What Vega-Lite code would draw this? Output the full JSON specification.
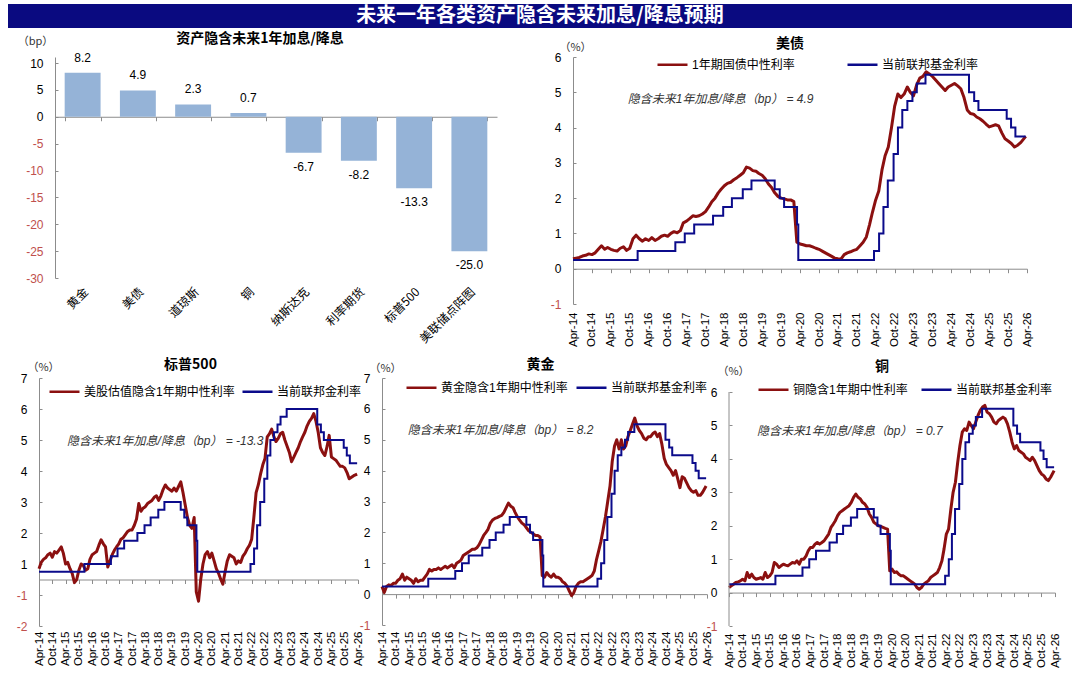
{
  "$schema": "https://vega.github.io/schema/vega-lite/v6.json",
  "background": "#ffffff",
  "padding": {"left": 8, "top": 4, "right": 8, "bottom": 0},
  "spacing": 0,
  "resolve": {"scale": {"color": "independent"}, "legend": {"color": "independent"}},
  "config": {
    "view": {"stroke": null},
    "concat": {"spacing": 0},
    "font": "Liberation Sans",
    "axis": {"grid": false, "domainColor": "#8c8c8c", "tickColor": "#8c8c8c", "labelFont": "Liberation Sans", "labelFontSize": 12, "labelColor": "#000000", "titleFont": "Noto Sans CJK SC", "titleFontSize": 11, "titleFontWeight": "normal", "titleColor": "#333333"},
    "axisY": {"ticks": true, "tickSize": -3, "labelPadding": 15, "labelOverlap": false, "titleAngle": 0, "titleAlign": "center", "titleBaseline": "middle"},
    "legend": {"symbolType": "stroke", "symbolSize": 900, "symbolStrokeWidth": 2.5, "labelFont": "Liberation Sans, Noto Sans CJK SC", "labelFontSize": 12, "labelColor": "#000000", "labelOffset": 3, "padding": 0, "labelLimit": 300},
    "title": {"font": "Noto Sans CJK SC", "fontSize": 14, "fontWeight": "bold", "color": "#000000", "anchor": "middle"},
    "text": {"font": "Liberation Sans", "fontSize": 12}
  },
  "datasets": {
    "bp": [
      {"asset": "黄金", "v": 8.2},
      {"asset": "美债", "v": 4.9},
      {"asset": "道琼斯", "v": 2.3},
      {"asset": "铜", "v": 0.7},
      {"asset": "纳斯达克", "v": -6.7},
      {"asset": "利率期货", "v": -8.2},
      {"asset": "标普500", "v": -13.3},
      {"asset": "美联储点阵图", "v": -25.0}
    ],
    "ff": [
      {"date": "2014/04/01", "ff": 0.25},
      {"date": "2015/12/16", "ff": 0.5},
      {"date": "2016/12/14", "ff": 0.75},
      {"date": "2017/03/15", "ff": 1.0},
      {"date": "2017/06/14", "ff": 1.25},
      {"date": "2017/12/13", "ff": 1.5},
      {"date": "2018/03/21", "ff": 1.75},
      {"date": "2018/06/13", "ff": 2.0},
      {"date": "2018/09/26", "ff": 2.25},
      {"date": "2018/12/19", "ff": 2.5},
      {"date": "2019/07/31", "ff": 2.25},
      {"date": "2019/09/18", "ff": 2.0},
      {"date": "2019/10/30", "ff": 1.75},
      {"date": "2020/03/03", "ff": 1.25},
      {"date": "2020/03/15", "ff": 0.25},
      {"date": "2022/03/16", "ff": 0.5},
      {"date": "2022/05/04", "ff": 1.0},
      {"date": "2022/06/15", "ff": 1.75},
      {"date": "2022/07/27", "ff": 2.5},
      {"date": "2022/09/21", "ff": 3.25},
      {"date": "2022/11/02", "ff": 4.0},
      {"date": "2022/12/14", "ff": 4.5},
      {"date": "2023/02/01", "ff": 4.75},
      {"date": "2023/03/22", "ff": 5.0},
      {"date": "2023/05/03", "ff": 5.25},
      {"date": "2023/07/26", "ff": 5.5},
      {"date": "2024/09/18", "ff": 5.0},
      {"date": "2024/11/07", "ff": 4.75},
      {"date": "2024/12/18", "ff": 4.5},
      {"date": "2025/09/17", "ff": 4.25},
      {"date": "2025/10/29", "ff": 4.0},
      {"date": "2025/12/10", "ff": 3.75},
      {"date": "2026/03/20", "ff": 3.75}
    ],
    "m": [
      {"date": "2014/04/01", "ust": 0.28, "spx": 0.35, "gold": 0.25, "cu": 0.15},
      {"date": "2014/05/01", "ust": 0.30, "spx": 0.55, "gold": 0.05, "cu": 0.20},
      {"date": "2014/06/01", "ust": 0.32, "spx": 0.65, "gold": 0.25, "cu": 0.25},
      {"date": "2014/07/01", "ust": 0.36, "spx": 0.70, "gold": 0.30, "cu": 0.30},
      {"date": "2014/08/01", "ust": 0.38, "spx": 0.80, "gold": 0.28, "cu": 0.32},
      {"date": "2014/09/01", "ust": 0.42, "spx": 0.85, "gold": 0.35, "cu": 0.35},
      {"date": "2014/10/01", "ust": 0.40, "spx": 0.72, "gold": 0.35, "cu": 0.40},
      {"date": "2014/11/01", "ust": 0.45, "spx": 0.90, "gold": 0.45, "cu": 0.35},
      {"date": "2014/12/01", "ust": 0.55, "spx": 0.85, "gold": 0.50, "cu": 0.60},
      {"date": "2015/01/01", "ust": 0.65, "spx": 0.95, "gold": 0.65, "cu": 0.45},
      {"date": "2015/02/01", "ust": 0.55, "spx": 1.05, "gold": 0.45, "cu": 0.55},
      {"date": "2015/03/01", "ust": 0.60, "spx": 0.85, "gold": 0.55, "cu": 0.45},
      {"date": "2015/04/01", "ust": 0.55, "spx": 0.50, "gold": 0.50, "cu": 0.40},
      {"date": "2015/05/01", "ust": 0.52, "spx": 0.55, "gold": 0.45, "cu": 0.42},
      {"date": "2015/06/01", "ust": 0.50, "spx": 0.35, "gold": 0.35, "cu": 0.45},
      {"date": "2015/07/01", "ust": 0.58, "spx": 0.20, "gold": 0.50, "cu": 0.40},
      {"date": "2015/08/01", "ust": 0.62, "spx": -0.10, "gold": 0.40, "cu": 0.60},
      {"date": "2015/09/01", "ust": 0.52, "spx": 0.00, "gold": 0.45, "cu": 0.45},
      {"date": "2015/10/01", "ust": 0.58, "spx": 0.30, "gold": 0.45, "cu": 0.50},
      {"date": "2015/11/01", "ust": 0.85, "spx": 0.50, "gold": 0.55, "cu": 0.60},
      {"date": "2015/12/01", "ust": 0.95, "spx": 0.45, "gold": 0.65, "cu": 0.90},
      {"date": "2016/01/01", "ust": 0.85, "spx": 0.30, "gold": 0.80, "cu": 0.85},
      {"date": "2016/02/01", "ust": 0.78, "spx": 0.35, "gold": 0.75, "cu": 0.75},
      {"date": "2016/03/01", "ust": 0.85, "spx": 0.65, "gold": 0.80, "cu": 0.80},
      {"date": "2016/04/01", "ust": 0.80, "spx": 0.80, "gold": 0.80, "cu": 0.85},
      {"date": "2016/05/01", "ust": 0.88, "spx": 0.85, "gold": 0.85, "cu": 0.82},
      {"date": "2016/06/01", "ust": 0.80, "spx": 0.90, "gold": 0.80, "cu": 0.80},
      {"date": "2016/07/01", "ust": 0.85, "spx": 1.10, "gold": 0.85, "cu": 0.85},
      {"date": "2016/08/01", "ust": 0.92, "spx": 1.28, "gold": 0.90, "cu": 0.90},
      {"date": "2016/09/01", "ust": 0.95, "spx": 1.15, "gold": 0.85, "cu": 0.88},
      {"date": "2016/10/01", "ust": 0.92, "spx": 1.05, "gold": 0.90, "cu": 0.95},
      {"date": "2016/11/01", "ust": 1.00, "spx": 0.40, "gold": 0.95, "cu": 0.85},
      {"date": "2016/12/01", "ust": 1.05, "spx": 0.60, "gold": 0.85, "cu": 1.00},
      {"date": "2017/01/01", "ust": 1.02, "spx": 0.80, "gold": 1.00, "cu": 1.00},
      {"date": "2017/02/01", "ust": 1.08, "spx": 0.95, "gold": 1.05, "cu": 1.10},
      {"date": "2017/03/01", "ust": 1.30, "spx": 1.05, "gold": 1.10, "cu": 1.25},
      {"date": "2017/04/01", "ust": 1.35, "spx": 1.15, "gold": 1.25, "cu": 1.35},
      {"date": "2017/05/01", "ust": 1.42, "spx": 1.30, "gold": 1.30, "cu": 1.35},
      {"date": "2017/06/01", "ust": 1.50, "spx": 1.35, "gold": 1.35, "cu": 1.45},
      {"date": "2017/07/01", "ust": 1.48, "spx": 1.45, "gold": 1.40, "cu": 1.50},
      {"date": "2017/08/01", "ust": 1.50, "spx": 1.55, "gold": 1.45, "cu": 1.45},
      {"date": "2017/09/01", "ust": 1.55, "spx": 1.60, "gold": 1.45, "cu": 1.50},
      {"date": "2017/10/01", "ust": 1.62, "spx": 1.60, "gold": 1.50, "cu": 1.55},
      {"date": "2017/11/01", "ust": 1.75, "spx": 1.75, "gold": 1.60, "cu": 1.65},
      {"date": "2017/12/01", "ust": 1.90, "spx": 1.95, "gold": 1.75, "cu": 1.75},
      {"date": "2018/01/01", "ust": 2.00, "spx": 2.45, "gold": 1.90, "cu": 1.95},
      {"date": "2018/02/01", "ust": 2.15, "spx": 2.20, "gold": 2.00, "cu": 2.05},
      {"date": "2018/03/01", "ust": 2.25, "spx": 2.30, "gold": 2.10, "cu": 2.15},
      {"date": "2018/04/01", "ust": 2.35, "spx": 2.35, "gold": 2.30, "cu": 2.30},
      {"date": "2018/05/01", "ust": 2.42, "spx": 2.45, "gold": 2.40, "cu": 2.40},
      {"date": "2018/06/01", "ust": 2.45, "spx": 2.50, "gold": 2.45, "cu": 2.45},
      {"date": "2018/07/01", "ust": 2.52, "spx": 2.55, "gold": 2.48, "cu": 2.50},
      {"date": "2018/08/01", "ust": 2.58, "spx": 2.65, "gold": 2.52, "cu": 2.55},
      {"date": "2018/09/01", "ust": 2.65, "spx": 2.70, "gold": 2.55, "cu": 2.60},
      {"date": "2018/10/01", "ust": 2.72, "spx": 2.55, "gold": 2.65, "cu": 2.70},
      {"date": "2018/11/01", "ust": 2.88, "spx": 2.70, "gold": 2.80, "cu": 2.85},
      {"date": "2018/12/01", "ust": 2.85, "spx": 2.90, "gold": 2.95, "cu": 2.95},
      {"date": "2019/01/01", "ust": 2.78, "spx": 3.05, "gold": 2.85, "cu": 2.85},
      {"date": "2019/02/01", "ust": 2.76, "spx": 2.95, "gold": 2.80, "cu": 2.80},
      {"date": "2019/03/01", "ust": 2.70, "spx": 2.90, "gold": 2.65, "cu": 2.70},
      {"date": "2019/04/01", "ust": 2.65, "spx": 2.85, "gold": 2.50, "cu": 2.65},
      {"date": "2019/05/01", "ust": 2.55, "spx": 2.95, "gold": 2.40, "cu": 2.55},
      {"date": "2019/06/01", "ust": 2.40, "spx": 2.85, "gold": 2.30, "cu": 2.35},
      {"date": "2019/07/01", "ust": 2.30, "spx": 3.00, "gold": 2.25, "cu": 2.25},
      {"date": "2019/08/01", "ust": 2.15, "spx": 3.15, "gold": 2.15, "cu": 2.10},
      {"date": "2019/09/01", "ust": 2.05, "spx": 2.80, "gold": 2.05, "cu": 2.05},
      {"date": "2019/10/01", "ust": 2.00, "spx": 2.40, "gold": 2.00, "cu": 2.00},
      {"date": "2019/11/01", "ust": 1.98, "spx": 2.00, "gold": 1.95, "cu": 1.98},
      {"date": "2019/12/01", "ust": 1.95, "spx": 1.75, "gold": 1.90, "cu": 1.95},
      {"date": "2020/01/01", "ust": 1.95, "spx": 1.65, "gold": 1.90, "cu": 1.92},
      {"date": "2020/02/01", "ust": 1.90, "spx": 2.00, "gold": 1.85, "cu": 1.90},
      {"date": "2020/03/01", "ust": 0.75, "spx": -0.40, "gold": 0.60, "cu": 0.65},
      {"date": "2020/04/01", "ust": 0.70, "spx": -0.70, "gold": 0.55, "cu": 0.70},
      {"date": "2020/05/01", "ust": 0.68, "spx": 0.00, "gold": 0.70, "cu": 0.60},
      {"date": "2020/06/01", "ust": 0.65, "spx": 0.50, "gold": 0.60, "cu": 0.62},
      {"date": "2020/07/01", "ust": 0.65, "spx": 0.80, "gold": 0.55, "cu": 0.55},
      {"date": "2020/08/01", "ust": 0.62, "spx": 0.90, "gold": 0.65, "cu": 0.50},
      {"date": "2020/09/01", "ust": 0.58, "spx": 0.70, "gold": 0.55, "cu": 0.50},
      {"date": "2020/10/01", "ust": 0.55, "spx": 0.85, "gold": 0.55, "cu": 0.45},
      {"date": "2020/11/01", "ust": 0.50, "spx": 0.60, "gold": 0.50, "cu": 0.40},
      {"date": "2020/12/01", "ust": 0.45, "spx": 0.35, "gold": 0.40, "cu": 0.35},
      {"date": "2021/01/01", "ust": 0.40, "spx": 0.20, "gold": 0.35, "cu": 0.30},
      {"date": "2021/02/01", "ust": 0.35, "spx": 0.00, "gold": 0.25, "cu": 0.25},
      {"date": "2021/03/01", "ust": 0.30, "spx": -0.15, "gold": 0.10, "cu": 0.15},
      {"date": "2021/04/01", "ust": 0.28, "spx": 0.25, "gold": -0.05, "cu": 0.10},
      {"date": "2021/05/01", "ust": 0.27, "spx": 0.60, "gold": 0.05, "cu": 0.15},
      {"date": "2021/06/01", "ust": 0.40, "spx": 0.80, "gold": 0.25, "cu": 0.25},
      {"date": "2021/07/01", "ust": 0.45, "spx": 0.75, "gold": 0.35, "cu": 0.30},
      {"date": "2021/08/01", "ust": 0.48, "spx": 0.70, "gold": 0.40, "cu": 0.35},
      {"date": "2021/09/01", "ust": 0.52, "spx": 0.50, "gold": 0.40, "cu": 0.45},
      {"date": "2021/10/01", "ust": 0.55, "spx": 0.60, "gold": 0.45, "cu": 0.50},
      {"date": "2021/11/01", "ust": 0.65, "spx": 0.55, "gold": 0.50, "cu": 0.55},
      {"date": "2021/12/01", "ust": 0.75, "spx": 0.75, "gold": 0.55, "cu": 0.60},
      {"date": "2022/01/01", "ust": 0.90, "spx": 0.85, "gold": 0.60, "cu": 0.75},
      {"date": "2022/02/01", "ust": 1.25, "spx": 1.00, "gold": 0.75, "cu": 0.95},
      {"date": "2022/03/01", "ust": 1.60, "spx": 1.10, "gold": 1.10, "cu": 1.30},
      {"date": "2022/04/01", "ust": 1.95, "spx": 1.30, "gold": 1.40, "cu": 1.75},
      {"date": "2022/05/01", "ust": 2.20, "spx": 2.00, "gold": 1.70, "cu": 1.90},
      {"date": "2022/06/01", "ust": 2.80, "spx": 2.80, "gold": 2.10, "cu": 2.50},
      {"date": "2022/07/01", "ust": 3.20, "spx": 3.05, "gold": 2.50, "cu": 3.00},
      {"date": "2022/08/01", "ust": 3.45, "spx": 3.40, "gold": 3.00, "cu": 3.30},
      {"date": "2022/09/01", "ust": 4.00, "spx": 3.70, "gold": 3.50, "cu": 3.90},
      {"date": "2022/10/01", "ust": 4.60, "spx": 3.90, "gold": 4.30, "cu": 4.40},
      {"date": "2022/11/01", "ust": 4.95, "spx": 4.60, "gold": 4.80, "cu": 4.80},
      {"date": "2022/12/01", "ust": 4.85, "spx": 4.70, "gold": 5.00, "cu": 4.90},
      {"date": "2023/01/01", "ust": 4.95, "spx": 4.85, "gold": 4.70, "cu": 4.85},
      {"date": "2023/02/01", "ust": 5.15, "spx": 4.60, "gold": 5.00, "cu": 5.10},
      {"date": "2023/03/01", "ust": 5.00, "spx": 4.45, "gold": 4.70, "cu": 5.00},
      {"date": "2023/04/01", "ust": 4.90, "spx": 4.55, "gold": 4.80, "cu": 4.90},
      {"date": "2023/05/01", "ust": 5.20, "spx": 4.70, "gold": 5.10, "cu": 5.10},
      {"date": "2023/06/01", "ust": 5.40, "spx": 4.75, "gold": 5.30, "cu": 5.30},
      {"date": "2023/07/01", "ust": 5.45, "spx": 4.50, "gold": 5.50, "cu": 5.45},
      {"date": "2023/08/01", "ust": 5.58, "spx": 4.30, "gold": 5.70, "cu": 5.55},
      {"date": "2023/09/01", "ust": 5.52, "spx": 4.10, "gold": 5.45, "cu": 5.60},
      {"date": "2023/10/01", "ust": 5.45, "spx": 3.80, "gold": 5.30, "cu": 5.40},
      {"date": "2023/11/01", "ust": 5.35, "spx": 3.95, "gold": 5.20, "cu": 5.35},
      {"date": "2023/12/01", "ust": 5.25, "spx": 4.10, "gold": 5.05, "cu": 5.25},
      {"date": "2024/01/01", "ust": 5.15, "spx": 4.25, "gold": 5.00, "cu": 5.10},
      {"date": "2024/02/01", "ust": 5.05, "spx": 4.45, "gold": 5.10, "cu": 5.05},
      {"date": "2024/03/01", "ust": 5.15, "spx": 4.60, "gold": 5.10, "cu": 5.15},
      {"date": "2024/04/01", "ust": 5.20, "spx": 4.75, "gold": 5.20, "cu": 5.20},
      {"date": "2024/05/01", "ust": 5.25, "spx": 4.95, "gold": 5.25, "cu": 5.25},
      {"date": "2024/06/01", "ust": 5.18, "spx": 5.10, "gold": 5.10, "cu": 5.20},
      {"date": "2024/07/01", "ust": 5.10, "spx": 5.20, "gold": 5.20, "cu": 5.05},
      {"date": "2024/08/01", "ust": 4.85, "spx": 5.35, "gold": 4.85, "cu": 4.80},
      {"date": "2024/09/01", "ust": 4.50, "spx": 5.10, "gold": 4.40, "cu": 4.50},
      {"date": "2024/10/01", "ust": 4.40, "spx": 4.75, "gold": 4.20, "cu": 4.30},
      {"date": "2024/11/01", "ust": 4.38, "spx": 4.25, "gold": 4.10, "cu": 4.40},
      {"date": "2024/12/01", "ust": 4.30, "spx": 4.10, "gold": 4.00, "cu": 4.25},
      {"date": "2025/01/01", "ust": 4.25, "spx": 4.00, "gold": 3.85, "cu": 4.20},
      {"date": "2025/02/01", "ust": 4.18, "spx": 4.30, "gold": 4.00, "cu": 4.15},
      {"date": "2025/03/01", "ust": 4.10, "spx": 4.65, "gold": 3.75, "cu": 4.05},
      {"date": "2025/04/01", "ust": 4.02, "spx": 3.95, "gold": 3.45, "cu": 4.00},
      {"date": "2025/05/01", "ust": 4.05, "spx": 3.90, "gold": 3.80, "cu": 3.95},
      {"date": "2025/06/01", "ust": 4.08, "spx": 3.85, "gold": 3.75, "cu": 4.05},
      {"date": "2025/07/01", "ust": 4.05, "spx": 3.75, "gold": 3.60, "cu": 3.95},
      {"date": "2025/08/01", "ust": 3.85, "spx": 3.65, "gold": 3.45, "cu": 3.80},
      {"date": "2025/09/01", "ust": 3.68, "spx": 3.65, "gold": 3.35, "cu": 3.65},
      {"date": "2025/10/01", "ust": 3.62, "spx": 3.60, "gold": 3.30, "cu": 3.55},
      {"date": "2025/11/01", "ust": 3.55, "spx": 3.45, "gold": 3.35, "cu": 3.50},
      {"date": "2025/12/01", "ust": 3.45, "spx": 3.25, "gold": 3.20, "cu": 3.40},
      {"date": "2026/01/01", "ust": 3.50, "spx": 3.30, "gold": 3.20, "cu": 3.35},
      {"date": "2026/02/01", "ust": 3.58, "spx": 3.35, "gold": 3.30, "cu": 3.45},
      {"date": "2026/03/20", "ust": 3.75, "spx": 3.40, "gold": 3.50, "cu": 3.65}
    ]
  },
  "vconcat": [
    {
      "width": 1064,
      "height": 24,
      "view": {"fill": "#0a0a80"},
      "data": {"values": [{"t": "未来一年各类资产隐含未来加息/降息预期"}]},
      "mark": {"type": "text", "color": "#ffffff", "font": "Noto Sans CJK SC", "fontSize": 20, "fontWeight": "bold", "baseline": "middle"},
      "encoding": {"text": {"field": "t"}}
    },
    {"width": 1, "height": 3, "data": {"values": []}, "mark": "point"},
    {
      "hconcat": [
        {"width": 47, "height": 1, "data": {"values": []}, "mark": "point"},
        {
          "width": 442,
          "height": 221,
          "data": {"name": "bp"},
          "title": {"text": "资产隐含未来1年加息/降息", "dx": -16, "offset": -10.5},
          "layer": [
            {
              "mark": {"type": "bar", "color": "#95b3d7"},
              "encoding": {
                "x": {"field": "asset", "type": "nominal", "sort": null,
                  "scale": {"domain": ["黄金", "美债", "道琼斯", "铜", "纳斯达克", "利率期货", "标普500", "美联储点阵图"], "paddingInner": 0.35, "paddingOuter": 0.175},
                  "axis": {"orient": "bottom", "title": null, "labels": false, "domain": true, "ticks": true, "tickBand": "extent", "tickSize": 4, "offset": -161.25}},
                "y": {"field": "v", "type": "quantitative", "scale": {"domain": [-30, 11.12], "nice": false},
                  "axis": {"values": [-30, -25, -20, -15, -10, -5, 0, 5, 10], "tickCount": 20, "format": "d", "labelOverlap": false, "labelExpr": "replace(datum.label, '−', '-')", "title": "（bp）", "titleX": -20, "titleY": -16,
                    "labelColor": {"condition": {"test": "datum.value < 0", "value": "#c0504d"}, "value": "#000000"}}}
              }
            },
            {
              "transform": [{"filter": "datum.v >= 0"}, {"calculate": "replace(format(datum.v, '.1f'), '−', '-')", "as": "lbl"}],
              "mark": {"type": "text", "baseline": "bottom", "dy": -8},
              "encoding": {
                "x": {"field": "asset", "type": "nominal", "sort": null,
                  "axis": {"orient": "bottom", "title": null, "domain": false, "ticks": false, "labelAngle": -45, "labelFont": "Noto Sans CJK SC", "labelFontSize": 12, "labelPadding": 8}},
                "y": {"field": "v", "type": "quantitative"},
                "text": {"field": "lbl"}
              }
            },
            {
              "transform": [{"filter": "datum.v < 0"}, {"calculate": "replace(format(datum.v, '.1f'), '−', '-')", "as": "lbl"}],
              "mark": {"type": "text", "baseline": "top", "dy": 9},
              "encoding": {
                "x": {"field": "asset", "type": "nominal", "sort": null, "axis": null},
                "y": {"field": "v", "type": "quantitative"},
                "text": {"field": "lbl"}
              }
            }
          ],
          "resolve": {"axis": {"x": "independent"}}
        },
        {"width": 76, "height": 1, "data": {"values": []}, "mark": "point"},
        {
          "width": 454,
          "height": 247,
          "title": {"text": "美债", "dx": -10, "offset": -9.5},
          "layer": [
            {
              "data": {"name": "m"},
              "mark": {"type": "line", "strokeWidth": 3, "strokeJoin": "round"},
              "encoding": {
                "x": {"field": "date", "type": "temporal",
                  "scale": {"domain": [{"year": 2014, "month": 4, "date": 1}, {"year": 2026, "month": 4, "date": 1}]},
                  "axis": {"orient": "bottom", "title": null, "domain": false, "ticks": false, "format": "%b-%y", "labelAngle": -90, "labelAlign": "right", "labelBaseline": "middle", "labelFontSize": 11.5, "labelPadding": 8, "labelOverlap": false, "labelFlush": false,
                    "values": [{"year": 2014, "month": 4}, {"year": 2014, "month": 10}, {"year": 2015, "month": 4}, {"year": 2015, "month": 10}, {"year": 2016, "month": 4}, {"year": 2016, "month": 10}, {"year": 2017, "month": 4}, {"year": 2017, "month": 10}, {"year": 2018, "month": 4}, {"year": 2018, "month": 10}, {"year": 2019, "month": 4}, {"year": 2019, "month": 10}, {"year": 2020, "month": 4}, {"year": 2020, "month": 10}, {"year": 2021, "month": 4}, {"year": 2021, "month": 10}, {"year": 2022, "month": 4}, {"year": 2022, "month": 10}, {"year": 2023, "month": 4}, {"year": 2023, "month": 10}, {"year": 2024, "month": 4}, {"year": 2024, "month": 10}, {"year": 2025, "month": 4}, {"year": 2025, "month": 10}, {"year": 2026, "month": 4}]}},
                "y": {"field": "ust", "type": "quantitative", "scale": {"domain": [-1, 6], "nice": false},
                  "axis": {"values": [-1, 0, 1, 2, 3, 4, 5, 6], "tickCount": 20, "format": "d", "labelOverlap": false, "labelExpr": "replace(datum.label, '−', '-')", "title": "（%）", "titleX": 2, "titleY": -10,
                    "labelColor": {"condition": {"test": "datum.value < 0", "value": "#c0504d"}, "value": "#000000"}}},
                "color": {"datum": "1年期国债中性利率",
                  "scale": {"domain": ["1年期国债中性利率", "当前联邦基金利率"], "range": ["#8b1010", "#0b0b8b"]},
                  "legend": {"title": null, "orient": "none", "legendX": 83, "legendY": -9, "direction": "horizontal", "columnPadding": 47}}
              }
            },
            {
              "data": {"name": "ff"},
              "mark": {"type": "line", "interpolate": "step-after", "strokeWidth": 2},
              "encoding": {
                "x": {"field": "date", "type": "temporal",
                  "axis": {"orient": "bottom", "title": null, "labels": false, "domain": true, "ticks": true, "tickSize": 4, "offset": -35.29,
                    "values": [{"year": 2014, "month": 4}, {"year": 2014, "month": 10}, {"year": 2015, "month": 4}, {"year": 2015, "month": 10}, {"year": 2016, "month": 4}, {"year": 2016, "month": 10}, {"year": 2017, "month": 4}, {"year": 2017, "month": 10}, {"year": 2018, "month": 4}, {"year": 2018, "month": 10}, {"year": 2019, "month": 4}, {"year": 2019, "month": 10}, {"year": 2020, "month": 4}, {"year": 2020, "month": 10}, {"year": 2021, "month": 4}, {"year": 2021, "month": 10}, {"year": 2022, "month": 4}, {"year": 2022, "month": 10}, {"year": 2023, "month": 4}, {"year": 2023, "month": 10}, {"year": 2024, "month": 4}, {"year": 2024, "month": 10}, {"year": 2025, "month": 4}, {"year": 2025, "month": 10}, {"year": 2026, "month": 4}]}},
                "y": {"field": "ff", "type": "quantitative"},
                "color": {"datum": "当前联邦基金利率"}
              }
            },
            {
              "data": {"values": [{"note": "隐含未来1年加息/降息（bp） = 4.9"}]},
              "mark": {"type": "text", "align": "left", "baseline": "middle", "fontStyle": "italic", "font": "Liberation Sans, Noto Sans CJK SC", "fontSize": 12, "color": "#333333"},
              "encoding": {
                "x": {"datum": {"year": 2015, "month": 9, "date": 12}, "type": "temporal", "axis": null},
                "y": {"datum": 4.82, "type": "quantitative"},
                "text": {"field": "note"}
              }
            }
          ],
          "resolve": {"axis": {"x": "independent"}}
        }
      ],
      "spacing": 0,
      "bounds": "flush",
      "resolve": {"scale": {"color": "independent"}, "legend": {"color": "independent"}}
    },
    {"width": 1, "height": 10, "data": {"values": []}, "mark": "point"},
    {
      "hconcat": [
        {"width": 31, "height": 1, "data": {"values": []}, "mark": "point"},
        {
          "width": 319,
          "height": 248,
          "title": {"text": "标普500", "dx": -8, "offset": -10.5},
          "layer": [
            {
              "data": {"name": "m"},
              "mark": {"type": "line", "strokeWidth": 3, "strokeJoin": "round"},
              "encoding": {
                "x": {"field": "date", "type": "temporal",
                  "scale": {"domain": [{"year": 2014, "month": 4, "date": 1}, {"year": 2026, "month": 4, "date": 1}]},
                  "axis": {"orient": "bottom", "title": null, "domain": false, "ticks": false, "format": "%b-%y", "labelAngle": -90, "labelAlign": "right", "labelBaseline": "middle", "labelFontSize": 11.5, "labelPadding": 5, "labelOverlap": false, "labelFlush": false,
                    "values": [{"year": 2014, "month": 4}, {"year": 2014, "month": 10}, {"year": 2015, "month": 4}, {"year": 2015, "month": 10}, {"year": 2016, "month": 4}, {"year": 2016, "month": 10}, {"year": 2017, "month": 4}, {"year": 2017, "month": 10}, {"year": 2018, "month": 4}, {"year": 2018, "month": 10}, {"year": 2019, "month": 4}, {"year": 2019, "month": 10}, {"year": 2020, "month": 4}, {"year": 2020, "month": 10}, {"year": 2021, "month": 4}, {"year": 2021, "month": 10}, {"year": 2022, "month": 4}, {"year": 2022, "month": 10}, {"year": 2023, "month": 4}, {"year": 2023, "month": 10}, {"year": 2024, "month": 4}, {"year": 2024, "month": 10}, {"year": 2025, "month": 4}, {"year": 2025, "month": 10}, {"year": 2026, "month": 4}]}},
                "y": {"field": "spx", "type": "quantitative", "scale": {"domain": [-1.5, 6.5], "nice": false},
                  "axis": {"values": [-1.5, -0.5, 0.5, 1.5, 2.5, 3.5, 4.5, 5.5, 6.5], "tickCount": 20, "labelOverlap": false, "labelExpr": "datum.value < 0 ? floor(datum.value) : ceil(datum.value)", "title": "（%）", "titleX": 4, "titleY": -11,
                    "labelColor": {"condition": {"test": "datum.value < 0", "value": "#c0504d"}, "value": "#000000"}}},
                "color": {"datum": "美股估值隐含1年期中性利率",
                  "scale": {"domain": ["美股估值隐含1年期中性利率", "当前联邦金利率"], "range": ["#8b1010", "#0b0b8b"]},
                  "legend": {"title": null, "orient": "none", "legendX": 9, "legendY": -3, "direction": "horizontal", "columnPadding": 2}}
              }
            },
            {
              "data": {"name": "ff"},
              "mark": {"type": "line", "interpolate": "step-after", "strokeWidth": 2},
              "encoding": {
                "x": {"field": "date", "type": "temporal",
                  "axis": {"orient": "bottom", "title": null, "labels": false, "domain": true, "ticks": true, "tickSize": 4, "offset": -46.5,
                    "values": [{"year": 2014, "month": 4}, {"year": 2014, "month": 10}, {"year": 2015, "month": 4}, {"year": 2015, "month": 10}, {"year": 2016, "month": 4}, {"year": 2016, "month": 10}, {"year": 2017, "month": 4}, {"year": 2017, "month": 10}, {"year": 2018, "month": 4}, {"year": 2018, "month": 10}, {"year": 2019, "month": 4}, {"year": 2019, "month": 10}, {"year": 2020, "month": 4}, {"year": 2020, "month": 10}, {"year": 2021, "month": 4}, {"year": 2021, "month": 10}, {"year": 2022, "month": 4}, {"year": 2022, "month": 10}, {"year": 2023, "month": 4}, {"year": 2023, "month": 10}, {"year": 2024, "month": 4}, {"year": 2024, "month": 10}, {"year": 2025, "month": 4}, {"year": 2025, "month": 10}, {"year": 2026, "month": 4}]}},
                "y": {"field": "ff", "type": "quantitative"},
                "color": {"datum": "当前联邦金利率"}
              }
            },
            {
              "data": {"values": [{"note": "隐含未来1年加息/降息（bp） = -13.3"}]},
              "mark": {"type": "text", "align": "left", "baseline": "middle", "fontStyle": "italic", "font": "Liberation Sans, Noto Sans CJK SC", "fontSize": 12, "color": "#333333"},
              "encoding": {
                "x": {"datum": {"year": 2015, "month": 4, "date": 20}, "type": "temporal", "axis": null},
                "y": {"datum": 4.47, "type": "quantitative"},
                "text": {"field": "note"}
              }
            }
          ],
          "resolve": {"axis": {"x": "independent"}}
        },
        {"width": 24, "height": 1, "data": {"values": []}, "mark": "point"},
        {
          "width": 325,
          "height": 247,
          "title": {"text": "黄金", "dx": -4, "offset": -9.5},
          "layer": [
            {
              "data": {"name": "m"},
              "mark": {"type": "line", "strokeWidth": 3, "strokeJoin": "round"},
              "encoding": {
                "x": {"field": "date", "type": "temporal",
                  "scale": {"domain": [{"year": 2014, "month": 4, "date": 1}, {"year": 2026, "month": 4, "date": 1}]},
                  "axis": {"orient": "bottom", "title": null, "domain": false, "ticks": false, "format": "%b-%y", "labelAngle": -90, "labelAlign": "right", "labelBaseline": "middle", "labelFontSize": 11.5, "labelPadding": 6, "labelOverlap": false, "labelFlush": false,
                    "values": [{"year": 2014, "month": 4}, {"year": 2014, "month": 10}, {"year": 2015, "month": 4}, {"year": 2015, "month": 10}, {"year": 2016, "month": 4}, {"year": 2016, "month": 10}, {"year": 2017, "month": 4}, {"year": 2017, "month": 10}, {"year": 2018, "month": 4}, {"year": 2018, "month": 10}, {"year": 2019, "month": 4}, {"year": 2019, "month": 10}, {"year": 2020, "month": 4}, {"year": 2020, "month": 10}, {"year": 2021, "month": 4}, {"year": 2021, "month": 10}, {"year": 2022, "month": 4}, {"year": 2022, "month": 10}, {"year": 2023, "month": 4}, {"year": 2023, "month": 10}, {"year": 2024, "month": 4}, {"year": 2024, "month": 10}, {"year": 2025, "month": 4}, {"year": 2025, "month": 10}, {"year": 2026, "month": 4}]}},
                "y": {"field": "gold", "type": "quantitative", "scale": {"domain": [-1, 7], "nice": false},
                  "axis": {"values": [-1, 0, 1, 2, 3, 4, 5, 6, 7], "tickCount": 20, "format": "d", "labelOverlap": false, "labelExpr": "replace(datum.label, '−', '-')", "title": "（%）", "titleX": 3, "titleY": -10,
                    "labelColor": {"condition": {"test": "datum.value < 0", "value": "#c0504d"}, "value": "#000000"}}},
                "color": {"datum": "黄金隐含1年期中性利率",
                  "scale": {"domain": ["黄金隐含1年期中性利率", "当前联邦基金利率"], "range": ["#8b1010", "#0b0b8b"]},
                  "legend": {"title": null, "orient": "none", "legendX": 23, "legendY": -7, "direction": "horizontal", "columnPadding": 3}}
              }
            },
            {
              "data": {"name": "ff"},
              "mark": {"type": "line", "interpolate": "step-after", "strokeWidth": 2},
              "encoding": {
                "x": {"field": "date", "type": "temporal",
                  "axis": {"orient": "bottom", "title": null, "labels": false, "domain": true, "ticks": true, "tickSize": 4, "offset": -30.88,
                    "values": [{"year": 2014, "month": 4}, {"year": 2014, "month": 10}, {"year": 2015, "month": 4}, {"year": 2015, "month": 10}, {"year": 2016, "month": 4}, {"year": 2016, "month": 10}, {"year": 2017, "month": 4}, {"year": 2017, "month": 10}, {"year": 2018, "month": 4}, {"year": 2018, "month": 10}, {"year": 2019, "month": 4}, {"year": 2019, "month": 10}, {"year": 2020, "month": 4}, {"year": 2020, "month": 10}, {"year": 2021, "month": 4}, {"year": 2021, "month": 10}, {"year": 2022, "month": 4}, {"year": 2022, "month": 10}, {"year": 2023, "month": 4}, {"year": 2023, "month": 10}, {"year": 2024, "month": 4}, {"year": 2024, "month": 10}, {"year": 2025, "month": 4}, {"year": 2025, "month": 10}, {"year": 2026, "month": 4}]}},
                "y": {"field": "ff", "type": "quantitative"},
                "color": {"datum": "当前联邦基金利率"}
              }
            },
            {
              "data": {"values": [{"note": "隐含未来1年加息/降息（bp） = 8.2"}]},
              "mark": {"type": "text", "align": "left", "baseline": "middle", "fontStyle": "italic", "font": "Liberation Sans, Noto Sans CJK SC", "fontSize": 12, "color": "#333333"},
              "encoding": {
                "x": {"datum": {"year": 2015, "month": 3, "date": 15}, "type": "temporal", "axis": null},
                "y": {"datum": 5.3, "type": "quantitative"},
                "text": {"field": "note"}
              }
            }
          ],
          "resolve": {"axis": {"x": "independent"}}
        },
        {"width": 22, "height": 1, "data": {"values": []}, "mark": "point"},
        {
          "width": 326,
          "height": 248,
          "title": {"text": "铜", "dx": -10, "offset": -8.5},
          "layer": [
            {
              "data": {"name": "m"},
              "mark": {"type": "line", "strokeWidth": 3, "strokeJoin": "round"},
              "encoding": {
                "x": {"field": "date", "type": "temporal",
                  "scale": {"domain": [{"year": 2014, "month": 4, "date": 1}, {"year": 2026, "month": 4, "date": 1}]},
                  "axis": {"orient": "bottom", "title": null, "domain": false, "ticks": false, "format": "%b-%y", "labelAngle": -90, "labelAlign": "right", "labelBaseline": "middle", "labelFontSize": 11.5, "labelPadding": 7, "labelOverlap": false, "labelFlush": false,
                    "values": [{"year": 2014, "month": 4}, {"year": 2014, "month": 10}, {"year": 2015, "month": 4}, {"year": 2015, "month": 10}, {"year": 2016, "month": 4}, {"year": 2016, "month": 10}, {"year": 2017, "month": 4}, {"year": 2017, "month": 10}, {"year": 2018, "month": 4}, {"year": 2018, "month": 10}, {"year": 2019, "month": 4}, {"year": 2019, "month": 10}, {"year": 2020, "month": 4}, {"year": 2020, "month": 10}, {"year": 2021, "month": 4}, {"year": 2021, "month": 10}, {"year": 2022, "month": 4}, {"year": 2022, "month": 10}, {"year": 2023, "month": 4}, {"year": 2023, "month": 10}, {"year": 2024, "month": 4}, {"year": 2024, "month": 10}, {"year": 2025, "month": 4}, {"year": 2025, "month": 10}, {"year": 2026, "month": 4}]}},
                "y": {"field": "cu", "type": "quantitative", "scale": {"domain": [-1, 6.42], "nice": false},
                  "axis": {"values": [-1, 0, 1, 2, 3, 4, 5, 6], "tickCount": 20, "format": "d", "labelOverlap": false, "labelExpr": "replace(datum.label, '−', '-')", "domain": false, "title": "（%）", "titleX": 4, "titleY": -7,
                    "labelColor": {"condition": {"test": "datum.value < 0", "value": "#c0504d"}, "value": "#000000"}}},
                "color": {"datum": "铜隐含1年期中性利率",
                  "scale": {"domain": ["铜隐含1年期中性利率", "当前联邦基金利率"], "range": ["#8b1010", "#0b0b8b"]},
                  "legend": {"title": null, "orient": "none", "legendX": 28, "legendY": -5, "direction": "horizontal", "columnPadding": 8}}
              }
            },
            {
              "data": {"name": "ff"},
              "mark": {"type": "line", "interpolate": "step-after", "strokeWidth": 2},
              "encoding": {
                "x": {"field": "date", "type": "temporal",
                  "axis": {"orient": "bottom", "title": null, "labels": false, "domain": true, "ticks": true, "tickSize": 4, "offset": -33.43,
                    "values": [{"year": 2014, "month": 4}, {"year": 2014, "month": 10}, {"year": 2015, "month": 4}, {"year": 2015, "month": 10}, {"year": 2016, "month": 4}, {"year": 2016, "month": 10}, {"year": 2017, "month": 4}, {"year": 2017, "month": 10}, {"year": 2018, "month": 4}, {"year": 2018, "month": 10}, {"year": 2019, "month": 4}, {"year": 2019, "month": 10}, {"year": 2020, "month": 4}, {"year": 2020, "month": 10}, {"year": 2021, "month": 4}, {"year": 2021, "month": 10}, {"year": 2022, "month": 4}, {"year": 2022, "month": 10}, {"year": 2023, "month": 4}, {"year": 2023, "month": 10}, {"year": 2024, "month": 4}, {"year": 2024, "month": 10}, {"year": 2025, "month": 4}, {"year": 2025, "month": 10}, {"year": 2026, "month": 4}]}},
                "y": {"field": "ff", "type": "quantitative"},
                "color": {"datum": "当前联邦基金利率"}
              }
            },
            {
              "data": {"values": [{"note": "隐含未来1年加息/降息（bp） = 0.7"}]},
              "mark": {"type": "text", "align": "left", "baseline": "middle", "fontStyle": "italic", "font": "Liberation Sans, Noto Sans CJK SC", "fontSize": 12, "color": "#333333"},
              "encoding": {
                "x": {"datum": {"year": 2015, "month": 4, "date": 12}, "type": "temporal", "axis": null},
                "y": {"datum": 4.82, "type": "quantitative"},
                "text": {"field": "note"}
              }
            },
            {
              "data": {"values": [{"lo": -1, "hi": 6}]},
              "mark": {"type": "rule", "color": "#8c8c8c", "strokeWidth": 1},
              "encoding": {
                "x": {"datum": {"year": 2014, "month": 4, "date": 1}, "type": "temporal", "axis": null},
                "y": {"field": "lo", "type": "quantitative"},
                "y2": {"field": "hi"}
              }
            }
          ],
          "resolve": {"axis": {"x": "independent"}}
        }
      ],
      "spacing": 0,
      "bounds": "flush",
      "resolve": {"scale": {"color": "independent"}, "legend": {"color": "independent"}}
    }
  ]
}
